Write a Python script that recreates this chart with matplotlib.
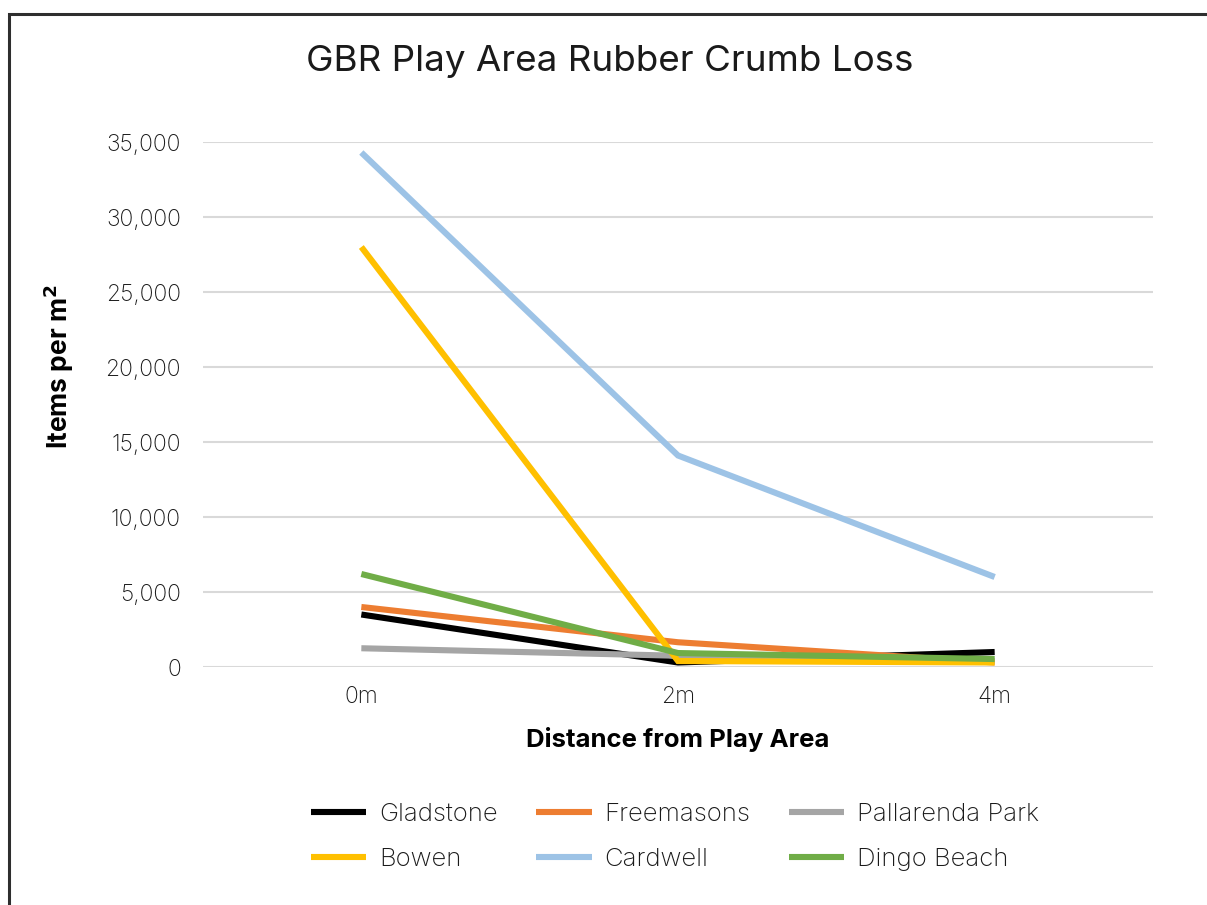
import matplotlib
matplotlib.use("Agg")
import matplotlib.pyplot as plt
from matplotlib.patches import Rectangle

plt.rcParams['font.family'] = ['Inter', 'DejaVu Sans']

categories = ["0m", "2m", "4m"]
gladstone = [3500, 300, 1000]
freemasons = [4000, 1650, 300]
pallarenda = [1250, 750, 400]
bowen = [28000, 400, 300]
cardwell = [34300, 14100, 6000]
dingo = [6200, 930, 530]

series = [
    ("Gladstone", gladstone, "#000000"),
    ("Freemasons", freemasons, "#ED7D31"),
    ("Pallarenda Park", pallarenda, "#A5A5A5"),
    ("Bowen", bowen, "#FFC000"),
    ("Cardwell", cardwell, "#9DC3E6"),
    ("Dingo Beach", dingo, "#70AD47"),
]
yticks = [0, 5000, 10000, 15000, 20000, 25000, 30000, 35000]

W, H = 1207, 905
fig = plt.figure(figsize=(W / 100, H / 100), dpi=100)
fig.patch.set_facecolor("white")

# outer chart border (cropped at right and bottom)
fig.patches.append(Rectangle((9 / W, -0.1), 1.3, 1.1 - 14 / H, transform=fig.transFigure,
                             fill=False, edgecolor="#2e2e2e", linewidth=2.2, zorder=0))

ax = fig.add_axes([203 / W, 1 - 667 / H, (1153 - 203) / W, (667 - 142) / H])
x = list(range(len(categories)))
handles = {}
for name, vals, col in series:
    (ln,) = ax.plot(x, vals, color=col, linewidth=4.4, solid_capstyle="butt",
                    solid_joinstyle="miter", label=name, zorder=3)
    handles[name] = ln

ax.set_xlim(-0.5, 2.5)
ax.set_ylim(0, 35000)
ax.set_yticks(yticks)
ax.set_yticklabels([f"{v:,}" for v in yticks], fontsize=16.5, color="#1a1a1a", fontweight="light")
ax.set_xticks(x)
ax.set_xticklabels(categories, fontsize=16.5, color="#1a1a1a", fontweight="light")
ax.grid(axis="y", color="#d9d9d9", linewidth=1.5, zorder=0)
ax.set_axisbelow(True)
for s in ax.spines.values():
    s.set_visible(False)
ax.tick_params(axis="y", length=0, pad=16)
ax.tick_params(axis="x", length=0, pad=14)

ax.set_xlabel("Distance from Play Area", fontsize=18.5, fontweight="bold", labelpad=13)
ax.set_ylabel("Items per m$^\\mathbf{2}$", fontsize=19, fontweight="bold", labelpad=21, y=0.573)

fig.text(610 / W, 1 - 62 / H, "GBR Play Area Rubber Crumb Loss", fontsize=26.5,
         ha="center", va="center", color="#1a1a1a")

order = ["Gladstone", "Bowen", "Freemasons", "Cardwell", "Pallarenda Park", "Dingo Beach"]
leg = fig.legend([handles[n] for n in order], order, ncol=3, loc="center",
                 bbox_to_anchor=(675 / W, 1 - 837 / H), frameon=False,
                 fontsize=18.5, handlelength=2.15, handletextpad=0.5,
                 columnspacing=1.5, labelspacing=0.85)
for t in leg.get_texts():
    t.set_color("#1a1a1a")
    t.set_fontweight("light")

fig.savefig("out.png", dpi=100, facecolor="white")
